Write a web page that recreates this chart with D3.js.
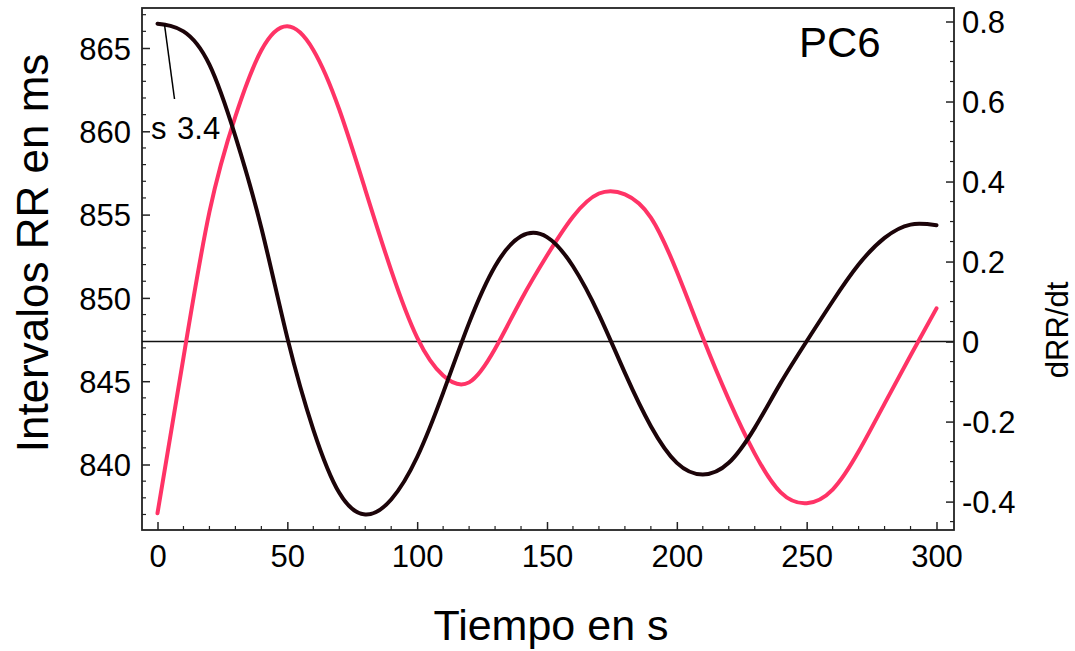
<!DOCTYPE html>
<html>
<head>
<meta charset="utf-8">
<script src="https://cdn.jsdelivr.net/npm/d3@7"></script>
<style>
  html, body { margin: 0; padding: 0; background: #fff; }
  svg { display: block; }
  text { font-family: "Liberation Sans", Arial, Helvetica, sans-serif; fill: #000; }
</style>
</head>
<body>
<svg id="chart" width="1075" height="651"></svg>
<script>
// ---- data ----
const time = [0,10,20,30,40,50,60,70,80,90,100,110,120,130,140,150,160,170,180,190,200,210,220,230,240,250,260,270,280,290,300];
const rrValues = [866.46,866.0,864.0,859.7,854.2,847.6,842.1,838.3,837.0,837.9,840.45,844.3,848.5,851.9,853.7,853.65,851.9,849.0,845.5,842.3,840.1,839.4,840.1,842.2,844.9,847.4,849.8,852.0,853.6,854.4,854.36];
const dRRValues = [-0.429,-0.04,0.324,0.563,0.728,0.788,0.729,0.58,0.38,0.178,0.01,-0.085,-0.102,-0.018,0.104,0.215,0.312,0.37,0.368,0.31,0.175,0.01,-0.145,-0.28,-0.377,-0.404,-0.37,-0.275,-0.155,-0.035,0.083];
const xTicks = [0,50,100,150,200,250,300];
const leftTicks = [840,845,850,855,860,865];
const rightTicks = [-0.4,-0.2,0,0.2,0.4,0.6,0.8];
const rightTickLabels = ["-0.4","-0.2","0","0.2","0.4","0.6","0.8"];
const xTitle = "Tiempo en s";
const leftTitle = "Intervalos RR en ms";
const rightTitle = "dRR/dt";
const panelLabel = "PC6";
const annotationText = "s 3.4";

// ---- layout ----
const svg = d3.select("#chart");
const L = 142, R = 954, T = 8, B = 530;

const x = d3.scaleLinear().domain([0, 300]).range([157.5, 936.5]);
const yL = d3.scaleLinear().domain([840, 865]).range([464.5, 48]);
const yR = d3.scaleLinear().domain([-0.4, 0.8]).range([501.6, 21.5]);

const tickFont = 31;

// frame
svg.append("rect").attr("x", L).attr("y", T).attr("width", R - L).attr("height", B - T)
  .attr("fill", "none").attr("stroke", "#222").attr("stroke-width", 1.8);

// zero line (right axis 0)
svg.append("line").attr("x1", L).attr("x2", R).attr("y1", yR(0)).attr("y2", yR(0))
  .attr("stroke", "#111").attr("stroke-width", 1.5);

// bottom axis (ticks inward)
const xMinor = d3.range(0, 301, 10).filter(v => v % 50 !== 0);
const gx = svg.append("g").attr("transform", `translate(0,${B})`);
gx.call(d3.axisBottom(x).tickValues(xTicks).tickSizeInner(-8).tickSizeOuter(0).tickPadding(18).tickFormat(d3.format("d")));
gx.select(".domain").remove();
gx.selectAll(".tick line").attr("stroke", "#222").attr("stroke-width", 1.5);
gx.selectAll(".tick text").attr("font-size", tickFont).attr("dy", "0.71em").attr("y", 15);
gx.append("g").selectAll("line").data(xMinor).join("line")
  .attr("x1", d => x(d)).attr("x2", d => x(d)).attr("y1", 0).attr("y2", -4)
  .attr("stroke", "#222").attr("stroke-width", 1.2);

// left axis (ticks inward)
const leftMinor = d3.range(837, 868, 1).filter(v => v % 5 !== 0);
const gl = svg.append("g").attr("transform", `translate(${L},0)`);
gl.call(d3.axisLeft(yL).tickValues(leftTicks).tickSizeInner(-8).tickSizeOuter(0).tickPadding(19).tickFormat(d3.format("d")));
gl.select(".domain").remove();
gl.selectAll(".tick line").attr("stroke", "#222").attr("stroke-width", 1.5);
gl.selectAll(".tick text").attr("font-size", tickFont).attr("x", -11).attr("dy", "0.36em");
gl.append("g").selectAll("line").data(leftMinor).join("line")
  .attr("x1", 0).attr("x2", 4).attr("y1", d => yL(d)).attr("y2", d => yL(d))
  .attr("stroke", "#222").attr("stroke-width", 1.2);

// right axis (ticks inward)
const rightMinor = d3.range(-9, 17, 1).map(k => k * 0.05).filter(v => Math.abs(Math.round(v * 100)) % 20 !== 0);
const gr = svg.append("g").attr("transform", `translate(${R},0)`);
gr.call(d3.axisRight(yR).tickValues(rightTicks).tickSizeInner(-8).tickSizeOuter(0)
  .tickFormat((d, i) => rightTickLabels[i]));
gr.select(".domain").remove();
gr.selectAll(".tick line").attr("stroke", "#222").attr("stroke-width", 1.5);
gr.selectAll(".tick text").attr("font-size", tickFont).attr("x", 8).attr("dy", "0.36em");
gr.append("g").selectAll("line").data(rightMinor).join("line")
  .attr("x1", 0).attr("x2", -4).attr("y1", d => yR(d)).attr("y2", d => yR(d))
  .attr("stroke", "#222").attr("stroke-width", 1.2);

// curves
const rrLine = d3.line().x((d, i) => x(time[i])).y(d => yL(d)).curve(d3.curveNatural);
const dLine = d3.line().x((d, i) => x(time[i])).y(d => yR(d)).curve(d3.curveNatural);

svg.append("path").attr("d", dLine(dRRValues)).attr("fill", "none")
  .attr("stroke", "#ff3366").attr("stroke-width", 4).attr("stroke-linecap", "round");
svg.append("path").attr("d", rrLine(rrValues)).attr("fill", "none")
  .attr("stroke", "#1c0409").attr("stroke-width", 4).attr("stroke-linecap", "round");

// annotation
svg.append("line").attr("x1", x(time[0]) + 7).attr("y1", yL(rrValues[0]) + 1)
  .attr("x2", 174.5).attr("y2", 99).attr("stroke", "#000").attr("stroke-width", 1.5);
svg.append("text").attr("x", 151).attr("y", 139).attr("font-size", 31)
  .attr("word-spacing", 2).text(annotationText);

// panel label
svg.append("text").attr("x", 799).attr("y", 57).attr("font-size", 42).text(panelLabel);

// titles
svg.append("text").attr("x", 551).attr("y", 640).attr("text-anchor", "middle")
  .attr("font-size", 43).text(xTitle);
svg.append("text").attr("transform", "translate(48,253) rotate(-90)").attr("text-anchor", "middle")
  .attr("font-size", 44).text(leftTitle);
svg.append("text").attr("transform", "translate(1068,330) rotate(-90)").attr("text-anchor", "middle")
  .attr("font-size", 31).text(rightTitle);
</script>
</body>
</html>
